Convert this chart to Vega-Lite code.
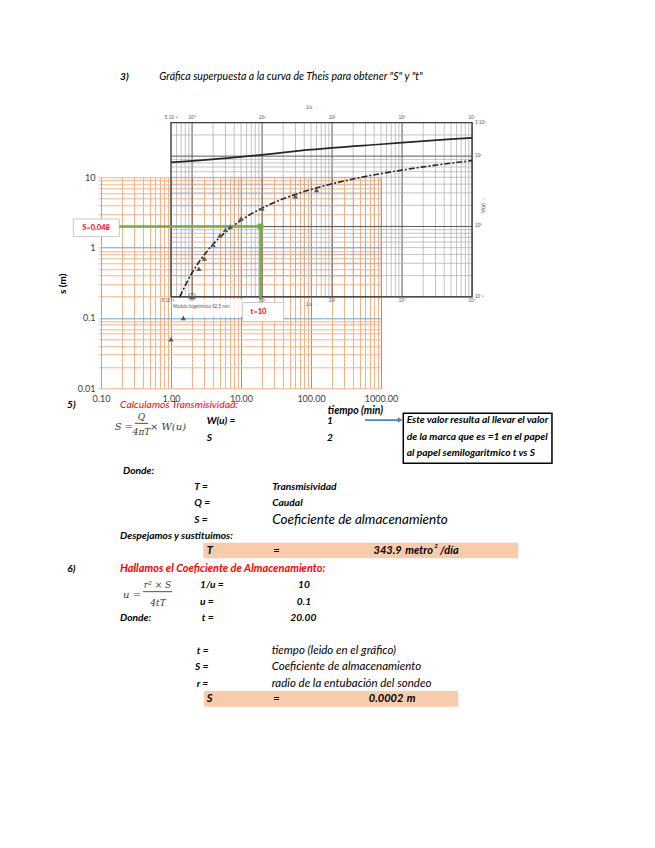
{
  "$schema": "https://vega.github.io/schema/vega-lite/v6.json",
  "autosize": {"type": "none"},
  "width": 280,
  "height": 211,
  "padding": {"left": 101, "top": 177.3, "right": 274, "bottom": 459.7},
  "background": "white",
  "config": {
    "view": {"stroke": null},
    "text": {"font": "Lato"},
    "axis": {"labelFont": "Lato", "titleFont": "Lato"}
  },
  "resolve": {"scale": {"x": "independent", "y": "independent"}},
  "layer": [
    {
      "data": {"values": [
        {"t": 0.1, "s": 0.01}
      ]},
      "mark": {"type": "point", "opacity": 0},
      "encoding": {
        "x": {
          "field": "t", "type": "quantitative",
          "scale": {"type": "log", "domain": [0.1, 1000], "nice": false},
          "axis": {
            "values": [0.1,0.2,0.3,0.4,0.5,0.6,0.7,0.8,0.9,1,2,3,4,5,6,7,8,9,10,20,30,40,50,60,70,80,90,100,200,300,400,500,600,700,800,900,1000],
            "labelExpr": "indexof([0.1,1,10,100,1000], datum.value) >= 0 ? format(datum.value, '.2f') : ''",
            "grid": true,
            "gridColor": {"condition": {"test": "indexof([1,10,100,1000], datum.value) >= 0", "value": "#6e9ecb"}, "value": "#f3b38a"},
            "gridWidth": 1,
            "gridOpacity": 1,
            "ticks": false,
            "domain": false,
            "labelOverlap": false,
            "labelFlush": false,
            "labelBound": false,
            "labelFontSize": 9,
            "labelColor": "#404040",
            "labelPadding": 6,
            "title": "tiempo (min)",
            "titleFontSize": 10.5,
            "titleFontWeight": "bold",
            "titleFontStyle": "italic",
            "titleColor": "black",
            "titleX": 254,
            "titleY": 22,
            "titleBaseline": "middle",
            "titleAlign": "center"
          }
        },
        "y": {
          "field": "s", "type": "quantitative",
          "scale": {"type": "log", "domain": [0.01, 10], "nice": false},
          "axis": {
            "values": [0.01,0.02,0.03,0.04,0.05,0.06,0.07,0.08,0.09,0.1,0.2,0.3,0.4,0.5,0.6,0.7,0.8,0.9,1,2,3,4,5,6,7,8,9,10],
            "labelExpr": "indexof([0.01,0.1,1,10], datum.value) >= 0 ? format(datum.value, '~g') : ''",
            "grid": true,
            "gridColor": {"condition": {"test": "indexof([0.1,1], datum.value) >= 0", "value": "#6e9ecb"}, "value": "#f3b38a"},
            "gridWidth": 1,
            "gridOpacity": 1,
            "ticks": true,
            "tickColor": "#c8c8c8",
            "tickSize": 3,
            "domain": true,
            "domainColor": "#a6a6a6",
            "labelOverlap": false,
            "labelFlush": false,
            "labelBound": false,
            "labelFontSize": 9,
            "labelColor": "#404040",
            "labelPadding": 3,
            "title": "s (m)",
            "titleFontSize": 10,
            "titleFontWeight": "bold",
            "titleColor": "black",
            "titleX": -39,
            "titleY": 106,
            "titleBaseline": "middle",
            "titleAlign": "center"
          }
        }
      }
    },
    {
      "data": {"values": [
        {"t": 1}, {"t": 1.2}, {"t": 1.4}, {"t": 1.6}, {"t": 1.8}, {"t": 2},
        {"t": 4}, {"t": 6}, {"t": 8}, {"t": 10}, {"t": 12}, {"t": 14}, {"t": 16}, {"t": 18}, {"t": 20},
        {"t": 40}, {"t": 60}, {"t": 80}, {"t": 100}, {"t": 120}, {"t": 140}, {"t": 160}, {"t": 180}, {"t": 200},
        {"t": 400}, {"t": 600}, {"t": 800}, {"t": 1000}, {"t": 1200}, {"t": 1400}, {"t": 1600}, {"t": 1800}, {"t": 2000},
        {"t": 4000}, {"t": 6000}, {"t": 8000}, {"t": 10000}, {"t": 12000}, {"t": 14000}, {"t": 16000}, {"t": 18000}, {"t": 20000}
      ]},
      "mark": {"type": "rule"},
      "encoding": {
        "x": {"field": "t", "type": "quantitative", "scale": {"type": "log", "domain": [0.1, 1000], "nice": false}, "axis": null},
        "y": {"datum": 0.2, "type": "quantitative", "scale": {"type": "log", "domain": [0.01, 10], "nice": false}, "axis": null},
        "y2": {"datum": 60},
        "color": {"condition": {"test": "indexof([2,20,200,2000,20000], datum.t) >= 0", "value": "#5a5a5a"}, "value": "#a9a9a9"},
        "strokeWidth": {"condition": {"test": "indexof([2,20,200,2000,20000], datum.t) >= 0", "value": 1}, "value": 0.7}
      }
    },
    {
      "data": {"values": [
        {"s": 0.2}, {"s": 0.4}, {"s": 0.6}, {"s": 0.8}, {"s": 1}, {"s": 1.2}, {"s": 1.4}, {"s": 1.6}, {"s": 1.8}, {"s": 2},
        {"s": 4}, {"s": 6}, {"s": 8}, {"s": 10}, {"s": 12}, {"s": 14}, {"s": 16}, {"s": 18}, {"s": 20},
        {"s": 40}, {"s": 60}
      ]},
      "mark": {"type": "rule"},
      "encoding": {
        "y": {"field": "s", "type": "quantitative", "scale": {"type": "log", "domain": [0.01, 10], "nice": false}, "axis": null},
        "x": {"datum": 1, "type": "quantitative", "scale": {"type": "log", "domain": [0.1, 1000], "nice": false}, "axis": null},
        "x2": {"datum": 20000},
        "color": {"condition": {"test": "indexof([0.2,2,20], datum.s) >= 0", "value": "#5a5a5a"}, "value": "#a9a9a9"},
        "strokeWidth": {"condition": {"test": "indexof([0.2,2,20], datum.s) >= 0", "value": 1}, "value": 0.7}
      }
    },
    {
      "data": {"values": [{"t0": 1, "t1": 20000, "s0": 0.2, "s1": 60}]},
      "mark": {"type": "rect", "fillOpacity": 0, "stroke": "#3c3c3c", "strokeWidth": 1.3},
      "encoding": {
        "x": {"field": "t0", "type": "quantitative", "scale": {"type": "log", "domain": [0.1, 1000], "nice": false}, "axis": null},
        "x2": {"field": "t1"},
        "y": {"field": "s0", "type": "quantitative", "scale": {"type": "log", "domain": [0.01, 10], "nice": false}, "axis": null},
        "y2": {"field": "s1"}
      }
    },
    {
      "data": {"values": [
        {"t": 1, "s": 16.3}, {"t": 10, "s": 19.5}, {"t": 100, "s": 24.7},
        {"t": 1000, "s": 29.5}, {"t": 10000, "s": 34.9}, {"t": 20000, "s": 36.4}
      ]},
      "mark": {"type": "line", "color": "#262626", "strokeWidth": 1.7, "interpolate": "monotone"},
      "encoding": {
        "x": {"field": "t", "type": "quantitative", "scale": {"type": "log", "domain": [0.1, 1000], "nice": false}, "axis": null},
        "y": {"field": "s", "type": "quantitative", "scale": {"type": "log", "domain": [0.01, 10], "nice": false}, "axis": null}
      }
    },
    {
      "data": {"values": [
        {"t": 1.333, "s": 0.2}, {"t": 2, "s": 0.439}, {"t": 2.5, "s": 0.621}, {"t": 3.33, "s": 0.909},
        {"t": 4, "s": 1.12}, {"t": 5, "s": 1.405}, {"t": 6.67, "s": 1.81}, {"t": 10, "s": 2.445},
        {"t": 13.3, "s": 2.93}, {"t": 20, "s": 3.646}, {"t": 28.6, "s": 4.3}, {"t": 40, "s": 4.94},
        {"t": 66.7, "s": 5.92}, {"t": 100, "s": 6.71}, {"t": 200, "s": 8.08}, {"t": 400, "s": 9.45},
        {"t": 1000, "s": 11.28}, {"t": 2000, "s": 12.66}, {"t": 4000, "s": 14.05}, {"t": 10000, "s": 15.88},
        {"t": 20000, "s": 17.27}
      ]},
      "mark": {"type": "line", "color": "#262626", "strokeWidth": 1.6, "strokeDash": [6, 2, 2, 2], "interpolate": "monotone"},
      "encoding": {
        "x": {"field": "t", "type": "quantitative", "scale": {"type": "log", "domain": [0.1, 1000], "nice": false}, "axis": null},
        "y": {"field": "s", "type": "quantitative", "scale": {"type": "log", "domain": [0.01, 10], "nice": false}, "axis": null}
      }
    },
    {
      "data": {"values": [{"t0": 1.03, "t1": 10.6, "s0": 0.1867, "s1": 0.1037}]},
      "mark": {"type": "rect", "fill": "white", "fillOpacity": 0.85},
      "encoding": {
        "x": {"field": "t0", "type": "quantitative", "scale": {"type": "log", "domain": [0.1, 1000], "nice": false}, "axis": null},
        "x2": {"field": "t1"},
        "y": {"field": "s0", "type": "quantitative", "scale": {"type": "log", "domain": [0.01, 10], "nice": false}, "axis": null},
        "y2": {"field": "s1"}
      }
    },
    {
      "data": {"values": [
        {"t0": 0.0402, "t1": 0.1825, "s0": 2.556, "s1": 1.432},
        {"t0": 10.6, "t1": 40.7, "s0": 0.1655, "s1": 0.0889}
      ]},
      "mark": {"type": "rect", "fill": "white", "stroke": "#c9c9c9", "strokeWidth": 1},
      "encoding": {
        "x": {"field": "t0", "type": "quantitative", "scale": {"type": "log", "domain": [0.1, 1000], "nice": false}, "axis": null},
        "x2": {"field": "t1"},
        "y": {"field": "s0", "type": "quantitative", "scale": {"type": "log", "domain": [0.01, 10], "nice": false}, "axis": null},
        "y2": {"field": "s1"}
      }
    },
    {
      "data": {"values": [
        {"t0": 0.1825, "t1": 19, "s0": 2, "s1": 2},
        {"t0": 19, "t1": 19, "s0": 2, "s1": 0.181}
      ]},
      "mark": {"type": "rule", "color": "#70ad47", "strokeWidth": 2.5},
      "encoding": {
        "x": {"field": "t0", "type": "quantitative", "scale": {"type": "log", "domain": [0.1, 1000], "nice": false}, "axis": null},
        "x2": {"field": "t1"},
        "y": {"field": "s0", "type": "quantitative", "scale": {"type": "log", "domain": [0.01, 10], "nice": false}, "axis": null},
        "y2": {"field": "s1"}
      }
    },
    {
      "data": {"values": [{"t": 19, "s": 2}]},
      "mark": {"type": "point", "shape": "square", "filled": true, "color": "#70ad47", "size": 32, "opacity": 1},
      "encoding": {
        "x": {"field": "t", "type": "quantitative", "scale": {"type": "log", "domain": [0.1, 1000], "nice": false}, "axis": null},
        "y": {"field": "s", "type": "quantitative", "scale": {"type": "log", "domain": [0.01, 10], "nice": false}, "axis": null}
      }
    },
    {
      "data": {"values": [
        {"t": 1, "s": 0.05}, {"t": 1.5, "s": 0.1}, {"t": 2, "s": 0.2}, {"t": 2.5, "s": 0.5},
        {"t": 3, "s": 0.7}, {"t": 4, "s": 1.1}, {"t": 5, "s": 1.5}, {"t": 6, "s": 1.8},
        {"t": 7, "s": 2.0}, {"t": 10, "s": 2.6}, {"t": 20, "s": 3.6}, {"t": 60, "s": 5.4},
        {"t": 120, "s": 6.6}
      ]},
      "mark": {"type": "point", "shape": "triangle-up", "filled": true, "color": "#595959", "size": 28, "opacity": 1},
      "encoding": {
        "x": {"field": "t", "type": "quantitative", "scale": {"type": "log", "domain": [0.1, 1000], "nice": false}, "axis": null},
        "y": {"field": "s", "type": "quantitative", "scale": {"type": "log", "domain": [0.01, 10], "nice": false}, "axis": null}
      }
    },
    {
      "data": {"values": [{"t": 2, "s": 0.2}]},
      "mark": {"type": "point", "filled": false, "color": "#595959", "size": 50, "strokeWidth": 1},
      "encoding": {
        "x": {"field": "t", "type": "quantitative", "scale": {"type": "log", "domain": [0.1, 1000], "nice": false}, "axis": null},
        "y": {"field": "s", "type": "quantitative", "scale": {"type": "log", "domain": [0.01, 10], "nice": false}, "axis": null}
      }
    },
    {
      "data": {"values": [
        {"t": 0.0849, "s": 1.886, "text": "S=0.048"},
        {"t": 17.8, "s": 0.121, "text": "t=10"}
      ]},
      "mark": {"type": "text", "color": "#ff0000", "fontWeight": "bold", "fontSize": 7.5, "align": "center", "baseline": "middle"},
      "encoding": {
        "x": {"field": "t", "type": "quantitative", "scale": {"type": "log", "domain": [0.1, 1000], "nice": false}, "axis": null},
        "y": {"field": "s", "type": "quantitative", "scale": {"type": "log", "domain": [0.01, 10], "nice": false}, "axis": null},
        "text": {"field": "text"}
      }
    },
    {
      "data": {"values": [
        {"t": 1, "s": 69.5, "text": "5·10⁻¹"}, {"t": 2, "s": 69.5, "text": "10⁰"}, {"t": 20, "s": 69.5, "text": "10¹"},
        {"t": 200, "s": 69.5, "text": "10²"}, {"t": 2000, "s": 69.5, "text": "10³"}, {"t": 20000, "s": 69.5, "text": "10⁴"},
        {"t": 103, "s": 96.5, "text": "1/u →"},
        {"t": 0.9, "s": 0.172, "text": "5·10⁻¹"}, {"t": 20, "s": 0.172, "text": "10¹"}, {"t": 200, "s": 0.172, "text": "10²"},
        {"t": 2000, "s": 0.172, "text": "10³"}, {"t": 20000, "s": 0.172, "text": "10⁴"},
        {"t": 103, "s": 0.153, "text": "1/u →"}
      ]},
      "mark": {"type": "text", "color": "#555555", "fontSize": 4.5, "align": "center", "baseline": "middle", "font": "Liberation Sans"},
      "encoding": {
        "x": {"field": "t", "type": "quantitative", "scale": {"type": "log", "domain": [0.1, 1000], "nice": false}, "axis": null},
        "y": {"field": "s", "type": "quantitative", "scale": {"type": "log", "domain": [0.01, 10], "nice": false}, "axis": null},
        "text": {"field": "text"}
      }
    },
    {
      "data": {"values": [
        {"t": 22000, "s": 60, "text": "3·10¹"}, {"t": 22000, "s": 20, "text": "10¹"},
        {"t": 22000, "s": 2, "text": "10⁰"}, {"t": 22000, "s": 0.2, "text": "10⁻¹"},
        {"t": 1.068, "s": 0.144, "text": "Módulo logarítmico 62,5 mm"}
      ]},
      "mark": {"type": "text", "color": "#555555", "fontSize": 4.5, "align": "left", "baseline": "middle", "font": "Liberation Sans"},
      "encoding": {
        "x": {"field": "t", "type": "quantitative", "scale": {"type": "log", "domain": [0.1, 1000], "nice": false}, "axis": null},
        "y": {"field": "s", "type": "quantitative", "scale": {"type": "log", "domain": [0.01, 10], "nice": false}, "axis": null},
        "text": {"field": "text"}
      }
    },
    {
      "data": {"values": [{"t": 29700, "s": 4.0, "text": "W(u) →"}]},
      "mark": {"type": "text", "color": "#555555", "fontSize": 4.5, "align": "center", "baseline": "middle", "angle": 270, "font": "Liberation Sans"},
      "encoding": {
        "x": {"field": "t", "type": "quantitative", "scale": {"type": "log", "domain": [0.1, 1000], "nice": false}, "axis": null},
        "y": {"field": "s", "type": "quantitative", "scale": {"type": "log", "domain": [0.01, 10], "nice": false}, "axis": null},
        "text": {"field": "text"}
      }
    },
    {
      "data": {"values": [
        {"c0": 31.04, "c1": 79.13, "l0": 29.4, "l1": 30.35},
        {"c0": 31.15, "c1": 69.97, "l0": 38.45, "l1": 39.41}
      ]},
      "mark": {"type": "rect", "fill": "#f8cbad"},
      "encoding": {
        "x": {"field": "c0", "type": "quantitative", "scale": {"domain": [15.4198, 58.1679], "nice": false, "zero": false}, "axis": null},
        "x2": {"field": "c1"},
        "y": {"field": "l0", "type": "quantitative", "scale": {"domain": [7.107, 19.981], "nice": false, "zero": false, "reverse": true}, "axis": null},
        "y2": {"field": "l1"}
      }
    },
    {
      "data": {"values": [{"c0": 61.57, "c1": 84.27, "l0": 21.51, "l1": 24.56}]},
      "mark": {"type": "rect", "fill": "white", "stroke": "black", "strokeWidth": 1.5},
      "encoding": {
        "x": {"field": "c0", "type": "quantitative", "scale": {"domain": [15.4198, 58.1679], "nice": false, "zero": false}, "axis": null},
        "x2": {"field": "c1"},
        "y": {"field": "l0", "type": "quantitative", "scale": {"domain": [7.107, 19.981], "nice": false, "zero": false, "reverse": true}, "axis": null},
        "y2": {"field": "l1"}
      }
    },
    {
      "data": {"values": [
        {"c0": 55.73, "c1": 60.9, "l0": 21.92, "l1": 21.92},
        {"c0": 20.61, "c1": 22.6, "l0": 22.12, "l1": 22.12},
        {"c0": 21.83, "c1": 26.26, "l0": 32.39, "l1": 32.39}
      ]},
      "mark": {"type": "rule"},
      "encoding": {
        "x": {"field": "c0", "type": "quantitative", "scale": {"domain": [15.4198, 58.1679], "nice": false, "zero": false}, "axis": null},
        "x2": {"field": "c1"},
        "y": {"field": "l0", "type": "quantitative", "scale": {"domain": [7.107, 19.981], "nice": false, "zero": false, "reverse": true}, "axis": null},
        "y2": {"field": "l1"},
        "color": {"condition": {"test": "datum.c0 > 50", "value": "#4f81bd"}, "value": "#3a3a3a"},
        "strokeWidth": {"condition": {"test": "datum.c0 > 50", "value": 1.6}, "value": 0.9}
      }
    },
    {
      "data": {"values": [{"col": 61.1, "line": 21.92}]},
      "mark": {"type": "point", "shape": "triangle-right", "filled": true, "color": "#4f81bd", "size": 30, "opacity": 1},
      "encoding": {
        "x": {"field": "col", "type": "quantitative", "scale": {"domain": [15.4198, 58.1679], "nice": false, "zero": false}, "axis": null},
        "y": {"field": "line", "type": "quantitative", "scale": {"domain": [7.107, 19.981], "nice": false, "zero": false, "reverse": true}, "axis": null}
      }
    },
    {
      "data": {"values": [{"col": 24.32, "line": 1, "text": "Gráfica superpuesta a la curva de Theis para obtener \"S\" y \"t\""}]},
      "mark": {"type": "text", "fontStyle": "italic", "fontSize": 10.5, "align": "left", "baseline": "middle", "color": "black"},
      "encoding": {
        "x": {"field": "col", "type": "quantitative", "scale": {"domain": [15.4198, 58.1679], "nice": false, "zero": false}, "axis": null},
        "y": {"field": "line", "type": "quantitative", "scale": {"domain": [7.107, 19.981], "nice": false, "zero": false, "reverse": true}, "axis": null},
        "text": {"field": "text"}
      }
    },
    {
      "data": {"values": [
        {"col": 18.32, "line": 1, "text": "3)"},
        {"col": 10.23, "line": 21, "text": "5)"},
        {"col": 10.27, "line": 31, "text": "6)"},
        {"col": 31.56, "line": 22, "text": "W(u) ="},
        {"col": 31.56, "line": 23, "text": "S"},
        {"col": 18.78, "line": 25, "text": "Donde:"},
        {"col": 29.66, "line": 26, "text": "T  ="},
        {"col": 29.66, "line": 27, "text": "Q  ="},
        {"col": 29.66, "line": 28, "text": "S  ="},
        {"col": 41.57, "line": 26, "text": "Transmisividad"},
        {"col": 41.57, "line": 27, "text": "Caudal"},
        {"col": 18.32, "line": 29, "text": "Despejamos y sustituimos:"},
        {"col": 30.53, "line": 32, "text": "1/u ="},
        {"col": 30.53, "line": 33, "text": "u ="},
        {"col": 18.32, "line": 34, "text": "Donde:"},
        {"col": 30.79, "line": 34, "text": "t ="},
        {"col": 30.03, "line": 36, "text": "t  ="},
        {"col": 29.77, "line": 37, "text": "S  ="},
        {"col": 30.03, "line": 38, "text": "r  ="}
      ]},
      "mark": {"type": "text", "fontStyle": "italic", "fontWeight": "bold", "fontSize": 10.2, "align": "left", "baseline": "middle", "color": "black"},
      "encoding": {
        "x": {"field": "col", "type": "quantitative", "scale": {"domain": [15.4198, 58.1679], "nice": false, "zero": false}, "axis": null},
        "y": {"field": "line", "type": "quantitative", "scale": {"domain": [7.107, 19.981], "nice": false, "zero": false, "reverse": true}, "axis": null},
        "text": {"field": "text"}
      }
    },
    {
      "data": {"values": [
        {"col": 31.55, "line": 29.9, "text": "T"},
        {"col": 41.73, "line": 29.9, "text": "="},
        {"col": 61.88, "line": 29.9, "text": "metro"},
        {"col": 67.18, "line": 29.9, "text": "/día"},
        {"col": 31.55, "line": 38.95, "text": "S"},
        {"col": 41.73, "line": 38.95, "text": "="},
        {"col": 62.09, "line": 38.95, "text": "m"}
      ]},
      "mark": {"type": "text", "fontStyle": "italic", "fontWeight": "bold", "fontSize": 11, "align": "left", "baseline": "middle", "color": "black"},
      "encoding": {
        "x": {"field": "col", "type": "quantitative", "scale": {"domain": [15.4198, 58.1679], "nice": false, "zero": false}, "axis": null},
        "y": {"field": "line", "type": "quantitative", "scale": {"domain": [7.107, 19.981], "nice": false, "zero": false, "reverse": true}, "axis": null},
        "text": {"field": "text"}
      }
    },
    {
      "data": {"values": [
        {"col": 50.38, "line": 22, "text": "1"},
        {"col": 50.38, "line": 23, "text": "2"},
        {"col": 46.4, "line": 32, "text": "10"},
        {"col": 46.4, "line": 33, "text": "0.1"},
        {"col": 46.3, "line": 34, "text": "20.00"}
      ]},
      "mark": {"type": "text", "fontStyle": "italic", "fontWeight": "bold", "fontSize": 10.2, "align": "center", "baseline": "middle", "color": "black"},
      "encoding": {
        "x": {"field": "col", "type": "quantitative", "scale": {"domain": [15.4198, 58.1679], "nice": false, "zero": false}, "axis": null},
        "y": {"field": "line", "type": "quantitative", "scale": {"domain": [7.107, 19.981], "nice": false, "zero": false, "reverse": true}, "axis": null},
        "text": {"field": "text"}
      }
    },
    {
      "data": {"values": [
        {"col": 61.33, "line": 29.9, "text": "343.9"},
        {"col": 61.58, "line": 38.95, "text": "0.0002"}
      ]},
      "mark": {"type": "text", "fontStyle": "italic", "fontWeight": "bold", "fontSize": 11, "align": "right", "baseline": "middle", "color": "black"},
      "encoding": {
        "x": {"field": "col", "type": "quantitative", "scale": {"domain": [15.4198, 58.1679], "nice": false, "zero": false}, "axis": null},
        "y": {"field": "line", "type": "quantitative", "scale": {"domain": [7.107, 19.981], "nice": false, "zero": false, "reverse": true}, "axis": null},
        "text": {"field": "text"}
      }
    },
    {
      "data": {"values": [{"col": 66.31, "line": 29.6, "text": "2"}]},
      "mark": {"type": "text", "fontStyle": "italic", "fontWeight": "bold", "fontSize": 6, "align": "left", "baseline": "middle", "color": "black"},
      "encoding": {
        "x": {"field": "col", "type": "quantitative", "scale": {"domain": [15.4198, 58.1679], "nice": false, "zero": false}, "axis": null},
        "y": {"field": "line", "type": "quantitative", "scale": {"domain": [7.107, 19.981], "nice": false, "zero": false, "reverse": true}, "axis": null},
        "text": {"field": "text"}
      }
    },
    {
      "data": {"values": [
        {"col": 41.48, "line": 36, "text": "tiempo (leido en el gráfico)"},
        {"col": 41.48, "line": 37, "text": "Coeficiente de almacenamiento"},
        {"col": 41.48, "line": 38, "text": "radio de la entubación del sondeo"}
      ]},
      "mark": {"type": "text", "fontStyle": "italic", "fontSize": 11.5, "align": "left", "baseline": "middle", "color": "black"},
      "encoding": {
        "x": {"field": "col", "type": "quantitative", "scale": {"domain": [15.4198, 58.1679], "nice": false, "zero": false}, "axis": null},
        "y": {"field": "line", "type": "quantitative", "scale": {"domain": [7.107, 19.981], "nice": false, "zero": false, "reverse": true}, "axis": null},
        "text": {"field": "text"}
      }
    },
    {
      "data": {"values": [{"col": 41.57, "line": 28, "text": "Coeficiente de almacenamiento"}]},
      "mark": {"type": "text", "fontStyle": "italic", "fontSize": 13.5, "align": "left", "baseline": "middle", "color": "black"},
      "encoding": {
        "x": {"field": "col", "type": "quantitative", "scale": {"domain": [15.4198, 58.1679], "nice": false, "zero": false}, "axis": null},
        "y": {"field": "line", "type": "quantitative", "scale": {"domain": [7.107, 19.981], "nice": false, "zero": false, "reverse": true}, "axis": null},
        "text": {"field": "text"}
      }
    },
    {
      "data": {"values": [{"col": 18.32, "line": 21, "text": "Calculamos Transmisividad:"}]},
      "mark": {"type": "text", "fontStyle": "italic", "fontSize": 10.4, "align": "left", "baseline": "middle", "color": "#ff0000"},
      "encoding": {
        "x": {"field": "col", "type": "quantitative", "scale": {"domain": [15.4198, 58.1679], "nice": false, "zero": false}, "axis": null},
        "y": {"field": "line", "type": "quantitative", "scale": {"domain": [7.107, 19.981], "nice": false, "zero": false, "reverse": true}, "axis": null},
        "text": {"field": "text"}
      }
    },
    {
      "data": {"values": [{"col": 18.32, "line": 31, "text": "Hallamos el  Coeficiente de Almacenamiento:"}]},
      "mark": {"type": "text", "fontStyle": "italic", "fontWeight": "bold", "fontSize": 11, "align": "left", "baseline": "middle", "color": "#ff0000"},
      "encoding": {
        "x": {"field": "col", "type": "quantitative", "scale": {"domain": [15.4198, 58.1679], "nice": false, "zero": false}, "axis": null},
        "y": {"field": "line", "type": "quantitative", "scale": {"domain": [7.107, 19.981], "nice": false, "zero": false, "reverse": true}, "axis": null},
        "text": {"field": "text"}
      }
    },
    {
      "data": {"values": [
        {"col": 62.09, "line": 21.92, "text": "Este valor resulta al llevar el valor"},
        {"col": 62.09, "line": 22.97, "text": "de la marca que es =1 en el papel"},
        {"col": 62.09, "line": 23.95, "text": "al papel semilogaritmico t vs S"}
      ]},
      "mark": {"type": "text", "fontStyle": "italic", "fontWeight": "bold", "fontSize": 10.2, "align": "left", "baseline": "middle", "color": "black"},
      "encoding": {
        "x": {"field": "col", "type": "quantitative", "scale": {"domain": [15.4198, 58.1679], "nice": false, "zero": false}, "axis": null},
        "y": {"field": "line", "type": "quantitative", "scale": {"domain": [7.107, 19.981], "nice": false, "zero": false, "reverse": true}, "axis": null},
        "text": {"field": "text"}
      }
    },
    {
      "data": {"values": [
        {"col": 17.5, "line": 22.32, "text": "S ="},
        {"col": 22.9, "line": 22.32, "text": "× W(u)"},
        {"col": 18.78, "line": 32.59, "text": "u ="}
      ]},
      "mark": {"type": "text", "font": "DejaVu Serif", "fontStyle": "italic", "fontSize": 10, "align": "left", "baseline": "middle", "color": "#3a3a3a"},
      "encoding": {
        "x": {"field": "col", "type": "quantitative", "scale": {"domain": [15.4198, 58.1679], "nice": false, "zero": false}, "axis": null},
        "y": {"field": "line", "type": "quantitative", "scale": {"domain": [7.107, 19.981], "nice": false, "zero": false, "reverse": true}, "axis": null},
        "text": {"field": "text"}
      }
    },
    {
      "data": {"values": [
        {"col": 21.6, "line": 21.71, "text": "Q"},
        {"col": 21.6, "line": 22.67, "text": "4πT"},
        {"col": 24.05, "line": 31.98, "text": "r² × S"},
        {"col": 24.12, "line": 33.08, "text": "4tT"}
      ]},
      "mark": {"type": "text", "font": "DejaVu Serif", "fontStyle": "italic", "fontSize": 9, "align": "center", "baseline": "middle", "color": "#3a3a3a"},
      "encoding": {
        "x": {"field": "col", "type": "quantitative", "scale": {"domain": [15.4198, 58.1679], "nice": false, "zero": false}, "axis": null},
        "y": {"field": "line", "type": "quantitative", "scale": {"domain": [7.107, 19.981], "nice": false, "zero": false, "reverse": true}, "axis": null},
        "text": {"field": "text"}
      }
    }
  ]
}
